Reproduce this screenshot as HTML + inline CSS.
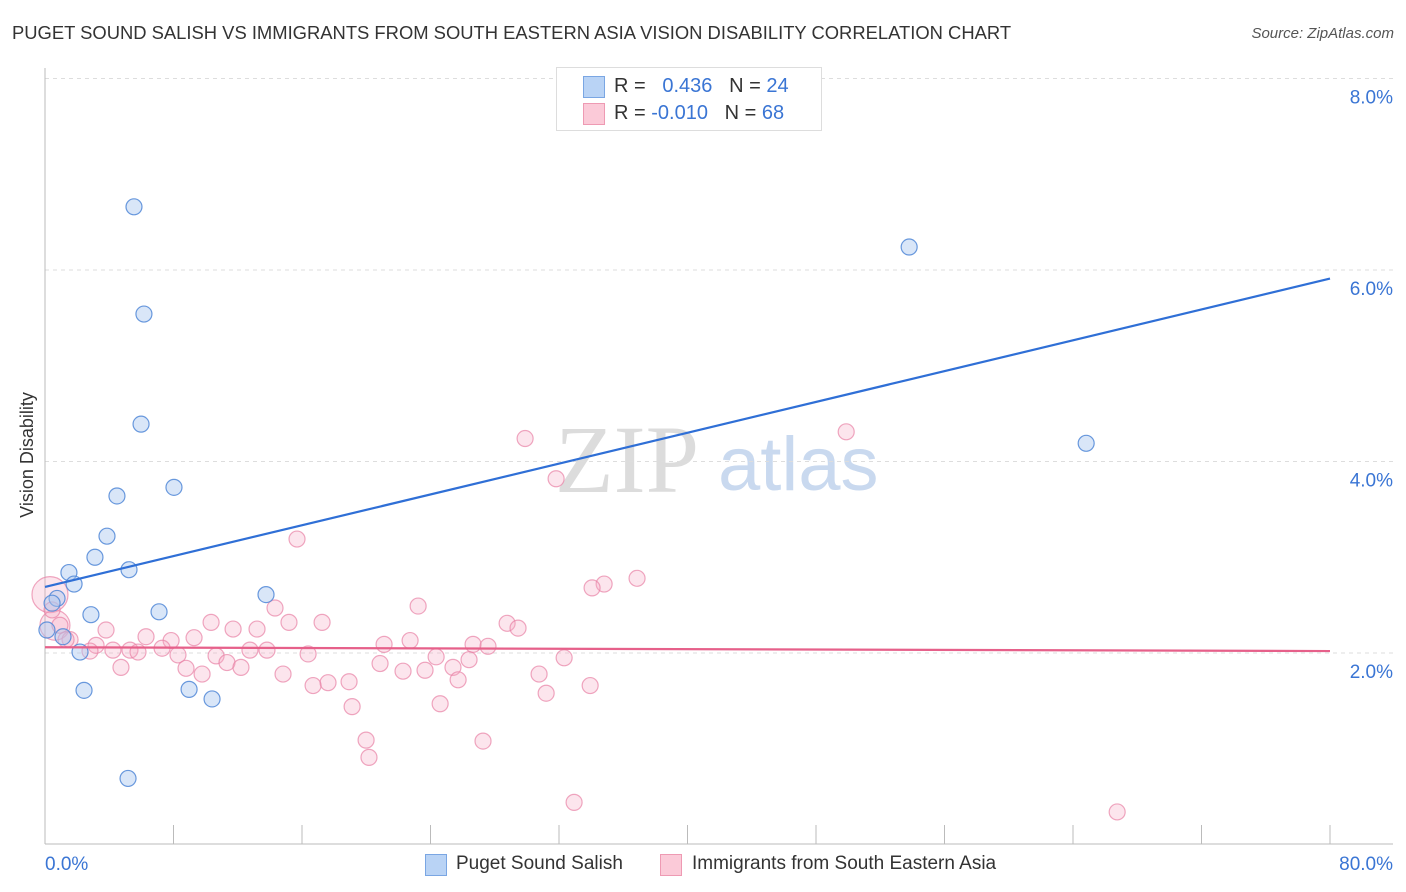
<!DOCTYPE html>
<html><head><meta charset="utf-8"><style>
body{margin:0;background:#fff;font-family:"Liberation Sans",sans-serif;}
#wrap{position:relative;width:1406px;height:892px;overflow:hidden;}
.t{position:absolute;white-space:nowrap;}
</style></head><body>
<div id="wrap">
<div class="t" style="left:12px;top:22px;font-size:18.4px;color:#333;">PUGET SOUND SALISH VS IMMIGRANTS FROM SOUTH EASTERN ASIA VISION DISABILITY CORRELATION CHART</div>
<div class="t" style="right:12px;top:25px;font-size:15px;color:#555;font-style:italic;">Source: ZipAtlas.com</div>
<svg id="plot" width="1406" height="892" style="position:absolute;left:0;top:0">
<text x="555" y="492" font-family="Liberation Serif,serif" font-size="96" fill="#dcdcdc">ZIP</text>
<text x="718" y="490" font-family="Liberation Sans,sans-serif" font-size="76" fill="#c9d9ef">atlas</text>
<g id="grid"></g><g id="axes"></g><g id="pts"></g><g id="lines"></g>
<text x="33" y="455" transform="rotate(-90 33 455)" text-anchor="middle" font-size="18" fill="#333">Vision Disability</text>
</svg>
<div style="position:absolute;left:556px;top:67px;width:264px;height:62px;border:1px solid #ddd;background:#fff;">
 <div style="position:absolute;left:26px;top:8px;width:20px;height:20px;background:#b9d3f5;border:1px solid #7aa6e3;"></div>
 <div class="t" style="left:57px;top:7px;font-size:20px;color:#333;">R = &nbsp;&nbsp;<span style="color:#3a75d4">0.436</span>&nbsp;&nbsp;&nbsp;N = <span style="color:#3a75d4">24</span></div>
 <div style="position:absolute;left:26px;top:35px;width:20px;height:20px;background:#fbcad8;border:1px solid #ee9ab3;"></div>
 <div class="t" style="left:57px;top:34px;font-size:20px;color:#333;">R = <span style="color:#3a75d4">-0.010</span>&nbsp;&nbsp;&nbsp;N = <span style="color:#3a75d4">68</span></div>
</div>
<div style="position:absolute;left:425px;top:854px;width:20px;height:20px;background:#b9d3f5;border:1px solid #7aa6e3;"></div>
<div class="t" style="left:456px;top:853px;font-size:19px;color:#333;">Puget Sound Salish</div>
<div style="position:absolute;left:660px;top:854px;width:20px;height:20px;background:#fbcad8;border:1px solid #ee9ab3;"></div>
<div class="t" style="left:692px;top:853px;font-size:19px;color:#333;">Immigrants from South Eastern Asia</div>
</div>
<script>
const yTicks=[2,4,6,8];
const yTickLabels=["2.0%","4.0%","6.0%","8.0%"];
const xTickLabels=["0.0%","80.0%"];
const blueX=[5.54,6.16,5.98,4.48,8.03,3.86,3.11,1.49,5.23,1.81,0.75,0.44,2.86,7.10,13.76,1.12,0.12,2.18,2.43,8.97,10.40,5.17,53.80,64.82];
const blueY=[6.66,5.54,4.39,3.64,3.73,3.22,3.00,2.84,2.87,2.72,2.57,2.52,2.40,2.43,2.61,2.17,2.24,2.01,1.61,1.62,1.52,0.69,6.24,4.19];
const pinkX=[0.31,0.62,29.89,49.88,31.82,15.69,36.86,34.81,34.06,23.23,14.32,17.25,10.34,28.77,29.45,15.19,11.71,13.20,3.80,9.28,6.29,7.85,22.73,21.11,26.65,27.58,3.18,5.29,7.29,1.56,4.23,5.79,2.80,12.76,13.82,16.38,8.28,10.65,24.35,26.40,11.33,20.86,12.20,32.32,4.73,8.78,23.66,22.29,25.40,14.82,30.76,25.72,17.62,18.93,16.69,33.94,31.20,19.12,24.60,19.99,27.27,20.17,32.94,66.75,9.78,0.93,0.44,1.31];
const pinkY=[2.61,2.29,4.24,4.31,3.82,3.19,2.78,2.72,2.68,2.49,2.47,2.32,2.32,2.31,2.26,2.32,2.25,2.25,2.24,2.16,2.17,2.13,2.13,2.09,2.09,2.07,2.08,2.03,2.05,2.14,2.03,2.01,2.02,2.03,2.03,1.99,1.98,1.97,1.96,1.93,1.90,1.89,1.85,1.95,1.85,1.84,1.82,1.81,1.85,1.78,1.78,1.72,1.69,1.70,1.66,1.66,1.58,1.44,1.47,1.09,1.08,0.91,0.44,0.34,1.78,2.29,2.45,2.14];
const pinkR=[18,15];
const blueTrend=[2.69,5.91];
const pinkTrend=[2.06,2.02];
const NS="http://www.w3.org/2000/svg";
const X=v=>45+v*1285/80, Y=v=>653-(v-2)*95.75;
function mk(parent,tag,attrs){const e=document.createElementNS(NS,tag);for(const k in attrs)e.setAttribute(k,attrs[k]);document.getElementById(parent).appendChild(e);return e;}
yTicks.forEach((t,i)=>{
 const g=mk('grid','line',{x1:45,x2:1393,y1:Y(t),y2:Y(t),stroke:'#ddd','stroke-dasharray':'4,4'});
 
 
 const tx=mk('grid','text',{x:1393,y:Y(t)+25,'text-anchor':'end','font-size':19,fill:'#3a75d4'});
 tx.textContent=yTickLabels[i];
 
 
});
const ax=mk('axes','line',{x1:45,x2:45,y1:68,y2:844,stroke:'#bbb'});


const bx=mk('axes','line',{x1:45,x2:1393,y1:844,y2:844,stroke:'#bbb'});


for(let i=1;i<=10;i++){const tk=mk('axes','line',{x1:X(i*8),x2:X(i*8),y1:825,y2:844,stroke:'#bbb'});
 
 }
const xl0=mk('axes','text',{x:45,y:870,'font-size':19,fill:'#3a75d4'});xl0.textContent=xTickLabels[0];


const xl1=mk('axes','text',{x:1393,y:870,'text-anchor':'end','font-size':19,fill:'#3a75d4'});xl1.textContent=xTickLabels[1];


pinkX.forEach((v,i)=>{const c=mk('pts','circle',{cx:X(v),cy:Y(pinkY[i]),r:pinkR[i]||8,fill:'rgba(246,170,195,0.3)',stroke:'rgba(232,130,165,0.7)','stroke-width':1.2});
 
 });
blueX.forEach((v,i)=>{const c=mk('pts','circle',{cx:X(v),cy:Y(blueY[i]),r:8,fill:'rgba(170,200,240,0.45)',stroke:'rgba(80,135,215,0.85)','stroke-width':1.2});
 
 });
const bl=mk('lines','line',{x1:X(0),x2:X(80),y1:Y(blueTrend[0]),y2:Y(blueTrend[1]),stroke:'#2f6fd6','stroke-width':2.2});


const pl=mk('lines','line',{x1:X(0),x2:X(80),y1:Y(pinkTrend[0]),y2:Y(pinkTrend[1]),stroke:'#e6608a','stroke-width':2.2});


</script>
</body></html>
